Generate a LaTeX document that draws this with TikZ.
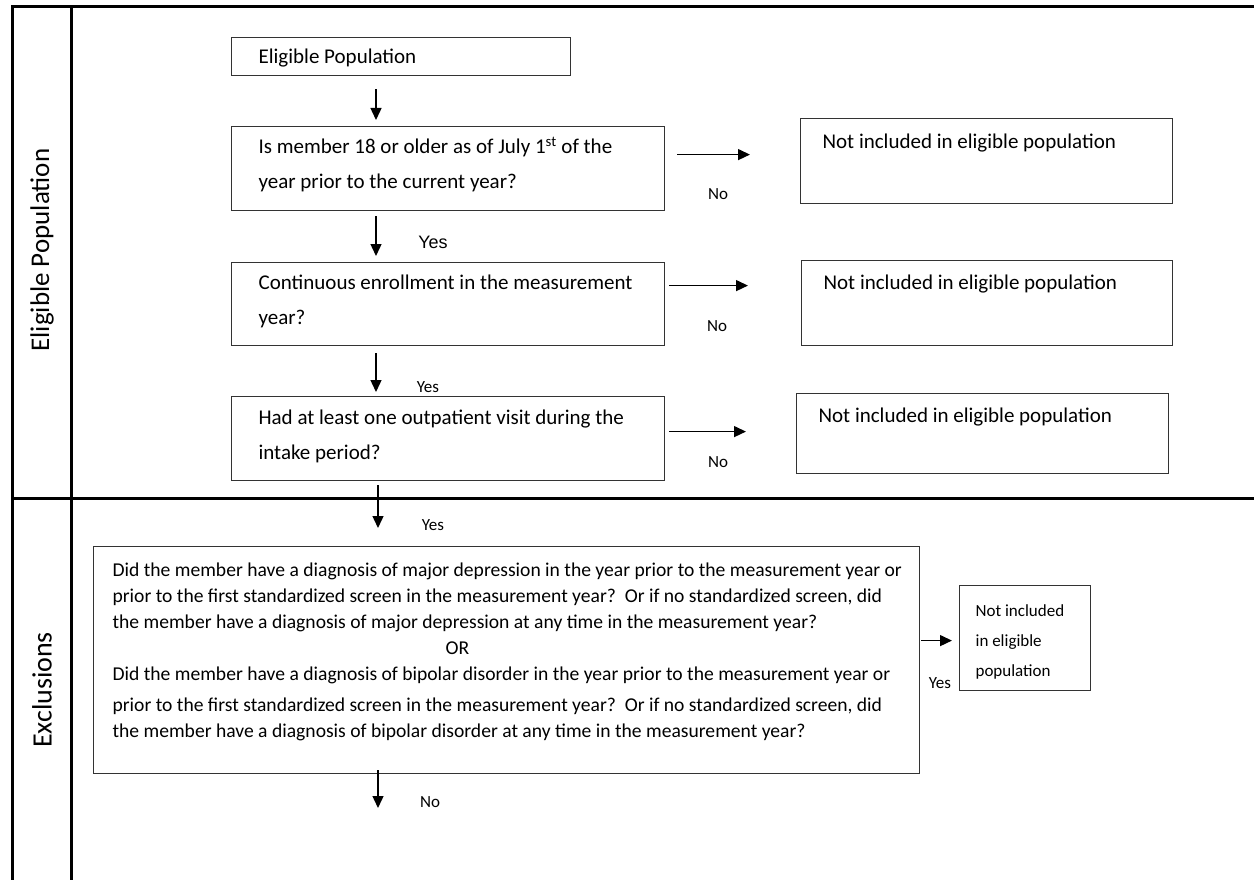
\documentclass[tikz,border=0pt]{standalone}
\usepackage{fontspec}
\setmainfont{Carlito}
\newfontfamily\arialfont{Liberation Sans}
\usetikzlibrary{arrows.meta}
\newcommand{\boxfont}{\fontsize{21}{35}\selectfont}
\newcommand{\wideboxfont}{\fontsize{19.6}{26}\selectfont}
\tikzset{frame/.style={line width=3pt}}
\tikzset{qbox/.style={draw=black!80, line width=1.2pt, anchor=north west, align=flush left, inner sep=0pt, font=\boxfont}}
\tikzset{lpad/.style={execute at begin node={\leftskip=#1}}}
\tikzset{arr/.style={line width=1.4pt, -{Triangle[length=12pt,width=11pt]}}}
\tikzset{lbl/.style={font=\fontsize{17}{17}\selectfont, inner sep=0pt}}
\tikzset{side/.style={font=\fontsize{27}{27}\selectfont, rotate=90, inner sep=0pt}}

\begin{document}
\begin{tikzpicture}[x=1pt, y=-1pt]
\useasboundingbox (0,0) rectangle (1254,880);
% swimlane frame
\draw[frame] (1254,7) -- (12,7) -- (12,880);
\draw[frame] (71,7) -- (71,880);
\draw[frame] (12,498) -- (1254,498);
\node[side] (lane1) at (42,250) {Eligible Population};
\node[side, font=\fontsize{28}{28}\selectfont] (lane2) at (42,690) {Exclusions};
% spines of the down arrows
\coordinate (sp) at (376,0);
\coordinate (sq) at (378,0);
% questions
\node[qbox, lpad=27pt, text width=339pt, text height=26pt, text depth=12pt] (pop) at (231,37) {Eligible Population};
\node[qbox, lpad=27pt, text width=433pt, text height=27pt, text depth=57pt] (q1) at (231,126)
  {Is member 18 or older as of July 1\textsuperscript{st} of the\\year prior to the current year?};
\node[qbox, lpad=27pt, text width=433pt, text height=27pt, text depth=56pt] (q2) at (231,262)
  {Continuous enrollment in the measurement\\year?};
\node[qbox, lpad=27pt, text width=433pt, text height=28pt, text depth=56pt] (q3) at (231,396)
  {Had at least one outpatient visit during the\\intake period?};
% not included
\node[qbox, lpad=22pt, text width=372pt, text height=30pt, text depth=55pt] (n1) at (800,118) {Not included in eligible population};
\node[qbox, lpad=22pt, text width=371pt, text height=29pt, text depth=56pt] (n2) at (801,260) {Not included in eligible population};
\node[qbox, lpad=22pt, text width=372pt, text height=29pt, text depth=51pt] (n3) at (796,393) {Not included in eligible population};
% exclusions
\node[qbox, font=\wideboxfont, lpad=19pt, text width=826pt, text height=30pt, text depth=197pt] (excl) at (93,546)
  {Did the member have a diagnosis of major depression in the year prior to the measurement year or\\
   prior to the first standardized screen in the measurement year?\ \ Or if no standardized screen, did\\
   the member have a diagnosis of major depression at any time in the measurement year?\\
   \hspace*{333pt}OR\\
   Did the member have a diagnosis of bipolar disorder in the year prior to the measurement year or\\[5pt]
   prior to the first standardized screen in the measurement year?\ \ Or if no standardized screen, did\\
   the member have a diagnosis of bipolar disorder at any time in the measurement year?};
\node[qbox, font=\fontsize{17}{30}\selectfont, lpad=16pt, text width=131pt, text height=31pt, text depth=74pt] (n4) at (959,585)
  {Not included\\in eligible\\population};
% flow down
\draw[arr, shorten <=13pt, shorten >=6pt] (pop.south -| sp) -- (q1.north -| sp);
\draw[arr, shorten <=5pt, shorten >=6pt] (q1.south -| sp) -- (q2.north -| sp);
\draw[arr, shorten <=7pt, shorten >=4pt] (q2.south -| sp) -- (q3.north -| sp);
\draw[arr, shorten <=4pt, shorten >=18pt] (q3.south -| sq) -- (excl.north -| sq);
\coordinate (out) at (378,808);
\draw[arr, shorten <=-4pt] (excl.south -| sq) -- (out);
% flow right
\draw[arr, shorten <=12pt, shorten >=50pt] ([yshift=14pt]q1.east) -- ([yshift=14pt]q1.east -| n1.west);
\draw[arr, shorten <=4pt, shorten >=53pt] ([yshift=18.5pt]q2.east) -- ([yshift=18.5pt]q2.east -| n2.west);
\draw[arr, shorten <=4pt, shorten >=50pt] ([yshift=7pt]q3.east) -- ([yshift=7pt]q3.east -| n3.west);
\draw[arr, shorten <=1pt, shorten >=7pt] ([yshift=19.5pt]excl.east) -- ([yshift=19.5pt]excl.east -| n4.west);
% answers
\node[lbl, font=\arialfont\fontsize{18}{18}\selectfont] (yes1) at (433,242) {Yes};
\node[lbl] (yes2) at (428,387) {Yes};
\node[lbl] (yes3) at (433,525) {Yes};
\node[lbl] (no5) at (430,802) {No};
\node[lbl] (no1) at (718,194) {No};
\node[lbl] (no2) at (717,326) {No};
\node[lbl] (no3) at (718,462) {No};
\node[lbl] (yes4) at (940,683) {Yes};
\end{tikzpicture}
\end{document}
